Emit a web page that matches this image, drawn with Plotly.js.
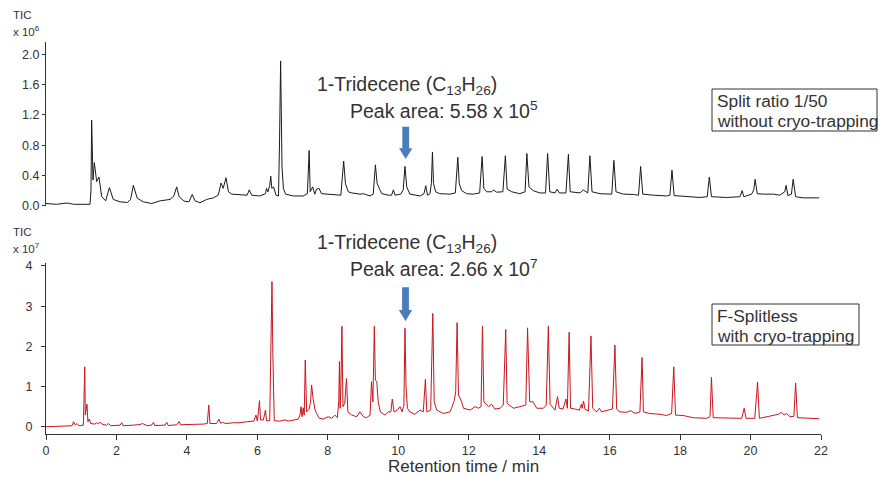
<!DOCTYPE html>
<html>
<head>
<meta charset="utf-8">
<script src="https://cdn.plot.ly/plotly-3.0.1.min.js"></script>
<style>html,body{margin:0;padding:0;background:#fff;}#chart{width:878px;height:477px;}</style>
</head>
<body>
<div id="chart"></div>
<script>
// ---- Data (retention time in min, TIC in axis units) ----
// Top: split ratio 1/50 without cryo-trapping (x 10^6)
const tTop = [0.00,0.30,0.54,0.63,0.78,1.25,1.277,1.296,1.334,1.372,1.438,1.504,1.58,1.694,1.80,1.91,2.10,2.31,2.40,2.48,2.59,2.76,3.00,3.24,3.52,3.63,3.71,3.78,3.92,4.06,4.15,4.23,4.37,4.56,4.75,4.89,4.97,5.03,5.11,5.18,5.27,5.51,5.71,5.77,5.84,6.07,6.23,6.26,6.30,6.35,6.38,6.41,6.46,6.53,6.60,6.63,6.66,6.70,6.74,6.80,7.02,7.30,7.42,7.47,7.50,7.57,7.63,7.68,7.75,7.82,8.06,8.37,8.45,8.50,8.58,8.68,8.91,9.01,9.20,9.29,9.35,9.40,9.46,9.53,9.72,9.81,9.86,9.91,10.07,10.14,10.19,10.24,10.33,10.62,10.73,10.78,10.83,10.90,10.94,10.97,11.00,11.06,11.18,11.47,11.62,11.69,11.73,11.80,11.94,12.13,12.31,12.38,12.43,12.51,12.65,12.70,12.79,12.97,13.04,13.09,13.22,13.45,13.60,13.65,13.71,13.83,14.02,14.18,14.24,14.30,14.45,14.51,14.57,14.76,14.83,14.88,15.16,15.25,15.38,15.44,15.50,15.73,16.06,16.12,16.18,16.39,16.67,16.82,16.88,16.94,17.24,17.62,17.71,17.77,17.83,18.19,18.56,18.77,18.83,18.89,19.32,19.70,19.76,19.81,20.03,20.09,20.13,20.19,20.36,20.65,20.83,20.97,21.01,21.06,21.16,21.21,21.28,21.50,21.95];
const vTop = [0.03,0.02,0.035,0.035,0.02,0.02,0.21,1.13,0.34,0.57,0.32,0.38,0.12,0.066,0.24,0.084,0.053,0.044,0.084,0.27,0.10,0.053,0.03,0.066,0.084,0.13,0.25,0.12,0.062,0.053,0.15,0.066,0.04,0.084,0.105,0.14,0.30,0.23,0.37,0.185,0.154,0.15,0.14,0.21,0.14,0.13,0.16,0.23,0.185,0.27,0.39,0.23,0.25,0.14,0.13,0.87,1.91,0.51,0.23,0.154,0.13,0.13,0.16,0.73,0.185,0.25,0.154,0.22,0.23,0.16,0.154,0.14,0.59,0.295,0.185,0.17,0.154,0.16,0.13,0.154,0.54,0.295,0.23,0.16,0.14,0.14,0.21,0.14,0.154,0.21,0.52,0.25,0.154,0.13,0.16,0.265,0.14,0.16,0.295,0.71,0.295,0.185,0.16,0.154,0.17,0.64,0.295,0.20,0.16,0.154,0.17,0.65,0.23,0.185,0.185,0.21,0.18,0.185,0.66,0.22,0.185,0.16,0.185,0.69,0.25,0.20,0.17,0.17,0.69,0.185,0.17,0.22,0.17,0.17,0.68,0.185,0.17,0.21,0.17,0.66,0.185,0.16,0.154,0.60,0.185,0.154,0.15,0.14,0.52,0.154,0.14,0.13,0.14,0.47,0.135,0.12,0.11,0.12,0.38,0.12,0.11,0.12,0.20,0.12,0.154,0.21,0.35,0.16,0.154,0.154,0.14,0.185,0.27,0.135,0.154,0.35,0.12,0.105,0.105];

// Bottom: F-Splitless with cryo-trapping (x 10^7)
const tBottom = [0.00,0.49,0.74,0.785,0.83,0.88,0.93,1.06,1.08,1.10,1.116,1.135,1.164,1.19,1.23,1.27,1.39,1.44,1.485,1.53,1.61,1.72,1.77,1.84,2.10,2.15,2.195,2.48,2.67,2.74,2.86,3.00,3.05,3.09,3.38,3.43,3.47,3.71,3.78,3.82,4.18,4.47,4.58,4.62,4.655,4.84,4.91,4.96,5.01,5.11,5.32,5.51,5.70,5.90,5.96,6.00,6.03,6.06,6.09,6.17,6.23,6.26,6.35,6.38,6.415,6.44,6.48,6.64,6.78,6.88,7.07,7.16,7.21,7.24,7.27,7.30,7.33,7.36,7.40,7.47,7.51,7.54,7.58,7.64,7.68,7.76,7.87,8.01,8.11,8.20,8.27,8.31,8.33,8.35,8.37,8.40,8.43,8.48,8.51,8.53,8.57,8.68,8.82,8.91,9.01,9.10,9.20,9.24,9.28,9.32,9.35,9.39,9.43,9.49,9.62,9.72,9.79,9.83,9.88,9.97,10.05,10.11,10.16,10.19,10.22,10.26,10.33,10.47,10.62,10.71,10.77,10.81,10.92,10.98,11.02,11.09,11.28,11.47,11.58,11.63,11.67,11.71,11.80,11.85,12.04,12.18,12.27,12.35,12.39,12.43,12.56,12.65,12.74,12.89,12.98,13.05,13.09,13.27,13.45,13.62,13.67,13.73,13.83,13.93,14.12,14.20,14.26,14.31,14.45,14.52,14.57,14.68,14.76,14.80,14.85,14.89,15.02,15.14,15.20,15.22,15.26,15.30,15.40,15.47,15.52,15.63,15.71,15.77,15.96,16.08,16.15,16.20,16.29,16.48,16.60,16.72,16.86,16.92,16.96,17.14,17.43,17.62,17.76,17.82,17.87,18.09,18.37,18.75,18.85,18.89,18.94,19.32,19.75,19.82,19.87,20.12,20.20,20.25,20.46,20.65,20.79,20.88,20.95,21.02,21.12,21.23,21.28,21.33,21.59,21.95];
const vBottom = [0.0,0.025,0.025,0.125,0.04,0.08,0.025,0.04,0.95,1.49,0.29,0.37,0.56,0.125,0.19,0.08,0.067,0.10,0.075,0.11,0.055,0.04,0.08,0.025,0.04,0.10,0.025,0.04,0.055,0.08,0.03,0.04,0.11,0.03,0.04,0.11,0.03,0.05,0.13,0.05,0.055,0.067,0.08,0.54,0.08,0.08,0.19,0.08,0.11,0.08,0.10,0.10,0.125,0.14,0.29,0.14,0.37,0.65,0.17,0.17,0.415,0.15,0.15,1.78,3.61,1.78,0.15,0.14,0.17,0.14,0.18,0.19,0.29,0.50,0.25,0.47,0.29,1.66,0.37,0.44,0.62,1.04,0.71,0.415,0.33,0.21,0.19,0.25,0.21,0.29,0.225,0.62,1.62,0.46,0.95,2.50,0.50,0.58,0.95,1.20,0.37,0.29,0.25,0.37,0.25,0.225,0.29,1.12,0.62,2.50,1.16,1.12,0.62,0.37,0.29,0.37,0.37,0.69,0.37,0.415,0.50,0.37,0.54,2.45,1.0,0.46,0.37,0.31,0.415,0.37,1.18,0.37,0.415,2.82,0.62,0.415,0.33,0.37,0.62,0.87,2.59,0.79,0.62,0.46,0.415,0.50,0.46,0.50,2.50,0.62,0.50,0.56,0.44,0.46,0.54,2.42,0.58,0.46,0.50,0.54,2.46,0.62,0.62,0.46,0.46,0.54,2.50,0.56,0.415,0.75,0.46,0.44,0.69,0.46,2.35,0.46,0.44,0.415,0.56,0.46,0.64,0.44,0.39,2.26,0.46,0.37,0.46,0.37,0.415,0.44,2.03,0.44,0.37,0.36,0.40,0.33,0.37,1.72,0.37,0.33,0.31,0.28,0.33,1.49,0.29,0.28,0.225,0.21,0.25,1.23,0.225,0.21,0.21,0.46,0.21,0.21,1.11,0.21,0.25,0.28,0.31,0.36,0.29,0.33,0.25,0.26,1.09,0.225,0.21,0.20];

// Tick values / labels
const xTicks = [0,2,4,6,8,10,12,14,16,18,20,22];
const yTopTicks = [0,0.4,0.8,1.2,1.6,2.0];
const yTopLabels = ['0.0','0.4','0.8','1.2','1.6','2.0'];
const yBottomTicks = [0,1,2,3,4];

// ---- Layout helpers (pixel -> paper) ----
const W = 878, H = 477;
const L = 46, R = 821, T = 42, B = 434;
const px = x => (x - L) / (R - L);
const py = y => (B - y) / (B - T);
const FONT = 'Liberation Sans, Arial, sans-serif';
const TXT = '#333333';

function arrowPath(cx, top, headStart, tip) {
  const sw = 3.4, hw = 6.7;
  const pts = [[cx-sw, top],[cx+sw, top],[cx+sw, headStart],[cx+hw, headStart],[cx, tip],[cx-hw, headStart],[cx-sw, headStart]];
  return 'M' + pts.map(p => px(p[0]).toFixed(5) + ',' + py(p[1]).toFixed(5)).join(' L') + ' Z';
}
function boxShape(x0, y0, x1, y1) {
  return {type: 'rect', xref: 'paper', yref: 'paper', x0: px(x0), x1: px(x1), y0: py(y1), y1: py(y0),
          line: {color: '#333', width: 1}, fillcolor: 'rgba(255,255,255,0)'};
}

const traces = [
  {x: tTop, y: vTop, xaxis: 'x', yaxis: 'y', type: 'scatter', mode: 'lines',
   line: {color: '#1a1a1a', width: 1}, hoverinfo: 'skip'},
  {x: tBottom, y: vBottom, xaxis: 'x', yaxis: 'y2', type: 'scatter', mode: 'lines',
   line: {color: '#c8161e', width: 1}, hoverinfo: 'skip'}
];

function ann(text, x, y, size, xanchor, yanchor, extra) {
  return Object.assign({text: text, xref: 'paper', yref: 'paper', x: px(x), y: py(y),
    xanchor: xanchor || 'left', yanchor: yanchor || 'middle', showarrow: false,
    font: {family: FONT, size: size, color: TXT}}, extra || {});
}

const layout = {
  width: W, height: H,
  margin: {l: L, r: W - R, t: T, b: H - B, pad: 0},
  paper_bgcolor: '#fff', plot_bgcolor: 'rgba(0,0,0,0)',
  showlegend: false,
  font: {family: FONT, color: TXT, size: 12},
  xaxis: {
    anchor: 'y2', domain: [0, 1], range: [0, 22],
    tickvals: xTicks, ticktext: xTicks.map(String),
    ticks: 'outside', ticklen: 5, tickwidth: 1, tickcolor: '#333',
    showline: true, linecolor: '#333', linewidth: 1,
    showgrid: false, zeroline: false,
    tickfont: {family: FONT, size: 12.5, color: TXT}
  },
  yaxis: {
    anchor: 'x', domain: [py(206.2), 1], range: [-0.005, 2.16],
    tickvals: yTopTicks, ticktext: yTopLabels,
    ticks: 'outside', ticklen: 3, tickwidth: 1, tickcolor: '#333',
    showline: true, linecolor: '#333', linewidth: 1,
    showgrid: false, zeroline: false, ticklabelstandoff: 0,
    tickfont: {family: FONT, size: 12.5, color: TXT}
  },
  yaxis2: {
    anchor: 'x', domain: [0, py(263.1)], range: [-0.18, 4.07],
    tickvals: yBottomTicks, ticktext: yBottomTicks.map(String),
    ticks: 'outside', ticklen: 4, tickwidth: 1, tickcolor: '#333',
    showline: true, linecolor: '#333', linewidth: 1,
    showgrid: false, zeroline: false, ticklabelstandoff: 6,
    tickfont: {family: FONT, size: 12.5, color: TXT}
  },
  shapes: [
    {type: 'path', xref: 'paper', yref: 'paper', path: arrowPath(405.7, 126.7, 148.3, 159),
     fillcolor: '#4a7ebb', line: {width: 0}},
    {type: 'path', xref: 'paper', yref: 'paper', path: arrowPath(405.5, 287.3, 310, 321),
     fillcolor: '#4a7ebb', line: {width: 0}},
    boxShape(712, 89, 877, 131),
    boxShape(712, 304, 859, 345)
  ],
  annotations: [
    ann('TIC', 11, 15, 11.5),
    ann('x 10<sup>6</sup>', 11, 31, 11.5),
    ann('TIC', 11, 232, 11.5),
    ann('x 10<sup>7</sup>', 11, 248, 11.5),
    ann('1-Tridecene (C<sub>13</sub>H<sub>26</sub>)', 315, 85, 19.5),
    ann('Peak area: 5.58 x 10<sup>5</sup>', 348, 110, 19.5),
    ann('1-Tridecene (C<sub>13</sub>H<sub>26</sub>)', 315, 243, 19.5),
    ann('Peak area: 2.66 x 10<sup>7</sup>', 348, 268, 19.5),
    ann('Split ratio 1/50', 715, 101, 17.3),
    ann('without cryo-trapping', 715, 121.5, 17.3),
    ann('F-Splitless', 715, 315.5, 17.3),
    ann('with cryo-trapping', 715, 335.5, 17.3),
    ann('Retention time / min', 464, 466, 17, 'center', 'middle')
  ]
};

Plotly.newPlot('chart', traces, layout, {staticPlot: true, displayModeBar: false});
</script>
</body>
</html>
